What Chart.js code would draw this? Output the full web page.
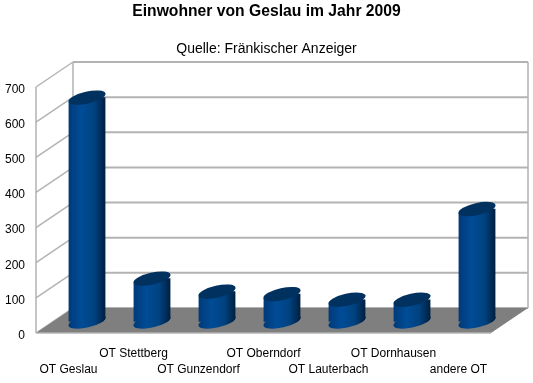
<!DOCTYPE html>
<html>
<head>
<meta charset="utf-8">
<style>
    html, body { margin: 0; background: #fff; }
    canvas { display: block; }
</style>
<script src="https://cdn.jsdelivr.net/npm/chart.js@4"></script>
</head>
<body>
<canvas id="chart" width="533" height="383"></canvas>
<script>
const categories = ['OT Geslau', 'OT Stettberg', 'OT Gunzendorf', 'OT Oberndorf', 'OT Lauterbach', 'OT Dornhausen', 'andere OT'];
const einwohner = [637, 122, 85, 78, 62, 62, 320];
const yTicks = [0, 100, 200, 300, 400, 500, 600, 700];

const DEPTH_X = 37, DEPTH_Y = 25;     // wall depth of the fake 3D box
const BAR_X = 18.5, BAR_Y = 11.5;     // bars stand in the middle of the floor
const BAR_WIDTH = 37;
const ELLIPSE_RY = 6, ELLIPSE_TILT = -0.22;
const ELLIPSE_RX = BAR_WIDTH / 2 / Math.cos(ELLIPSE_TILT);
const FONT = 'Liberation Sans';

function barGradient(chart, x) {
    const half = BAR_WIDTH / 2;
    const g = chart.ctx.createLinearGradient(x - half, 0, x + half, 0);
    g.addColorStop(0, '#003a78');
    g.addColorStop(0.35, '#004c96');
    g.addColorStop(0.7, '#00427f');
    g.addColorStop(0.9, '#002a55');
    g.addColorStop(1, '#001f40');
    return g;
}

function ellipse(ctx, x, y, fill) {
    ctx.beginPath();
    ctx.ellipse(x, y, ELLIPSE_RX, ELLIPSE_RY, ELLIPSE_TILT, 0, Math.PI * 2);
    ctx.fillStyle = fill;
    ctx.fill();
}

// cylinder outline, so the square bar corners don't stick out past the slanted ellipses
function clipToCylinders(ctx, bars) {
    const tipX = BAR_WIDTH / 2;
    const tipY = Math.sin(ELLIPSE_TILT) * ELLIPSE_RX;
    ctx.beginPath();
    bars.forEach(el => {
        ctx.moveTo(el.x - tipX, el.y - tipY);
        ctx.lineTo(el.x - tipX, el.base - tipY);
        ctx.ellipse(el.x, el.base, ELLIPSE_RX, ELLIPSE_RY, ELLIPSE_TILT, Math.PI, 0, true);
        ctx.lineTo(el.x + tipX, el.y + tipY);
        ctx.closePath();
    });
    ctx.clip();
}

// walls + floor, then shift the canvas so the bars land mid-depth
const box3d = {
    id: 'box3d',
    beforeDraw(chart) {
        // tick labels sit a bit lower than Chart.js centres them
        chart.scales.y.getLabelItems().forEach(item => { item.options.translation[1] += 2.5; });
    },
    beforeDatasetsDraw(chart) {
        const { ctx, chartArea: a, scales: { y } } = chart;
        ctx.save();
        ctx.strokeStyle = '#b3b3b3';

        ctx.lineWidth = 2;
        yTicks.forEach(v => {
            const py = y.getPixelForValue(v);
            ctx.beginPath();
            ctx.moveTo(a.left + DEPTH_X, py - DEPTH_Y);
            ctx.lineTo(a.right + DEPTH_X, py - DEPTH_Y);
            ctx.stroke();
        });
        ctx.lineWidth = 1.5;
        yTicks.forEach(v => {
            const py = y.getPixelForValue(v);
            ctx.beginPath();
            ctx.moveTo(a.left, py);
            ctx.lineTo(a.left + DEPTH_X, py - DEPTH_Y);
            ctx.stroke();
        });
        ctx.beginPath();
        ctx.moveTo(a.left, a.bottom);
        ctx.lineTo(a.left, a.top);
        ctx.moveTo(a.left + DEPTH_X, a.bottom - DEPTH_Y);
        ctx.lineTo(a.left + DEPTH_X, a.top - DEPTH_Y);
        ctx.moveTo(a.right + DEPTH_X, a.bottom - DEPTH_Y);
        ctx.lineTo(a.right + DEPTH_X, a.top - DEPTH_Y);
        ctx.stroke();

        ctx.beginPath();
        ctx.moveTo(a.left, a.bottom);
        ctx.lineTo(a.left + DEPTH_X, a.bottom - DEPTH_Y);
        ctx.lineTo(a.right + DEPTH_X, a.bottom - DEPTH_Y);
        ctx.lineTo(a.right, a.bottom);
        ctx.closePath();
        ctx.fillStyle = '#7f7f7f';
        ctx.fill();
        ctx.beginPath();
        ctx.moveTo(a.left, a.bottom);
        ctx.lineTo(a.right, a.bottom);
        ctx.stroke();
        ctx.restore();

        const bars = chart.getDatasetMeta(0).data;
        ctx.save();
        ctx.translate(BAR_X, -BAR_Y);
        bars.forEach(el => ellipse(ctx, el.x, el.base, barGradient(chart, el.x)));
        clipToCylinders(ctx, bars);
    },
    afterDatasetsDraw(chart) {
        const ctx = chart.ctx;
        ctx.restore();
        ctx.save();
        ctx.translate(BAR_X, -BAR_Y);
        chart.getDatasetMeta(0).data.forEach(el => ellipse(ctx, el.x, el.y, '#00315f'));
        ctx.restore();
    }
};

new Chart(document.getElementById('chart'), {
    type: 'bar',
    data: {
        labels: categories,
        datasets: [{
            data: einwohner,
            clip: false,
            barThickness: BAR_WIDTH,
            backgroundColor: c => {
                // scales have no pixels yet on the first resolve
                const x = c.chart.scales.x ? c.chart.scales.x.getPixelForValue(c.dataIndex) : NaN;
                return Number.isFinite(x) ? barGradient(c.chart, x) : '#004080';
            }
        }]
    },
    options: {
        responsive: false,
        animation: false,
        layout: { padding: 0 },
        plugins: {
            legend: { display: false },
            tooltip: { enabled: false },
            title: {
                display: true,
                text: 'Einwohner von Geslau im Jahr 2009',
                color: '#000',
                font: { family: FONT, size: 15.7, weight: 'bold' },
                padding: { top: 2, bottom: 18 }
            },
            subtitle: {
                display: true,
                text: 'Quelle: Fränkischer Anzeiger',
                color: '#000',
                font: { family: FONT, size: 14, weight: 'normal' },
                padding: { top: 2, bottom: 29.36 }
            }
        },
        scales: {
            x: {
                grid: { display: false },
                border: { display: false },
                afterFit: s => { s.height = 50; s.paddingLeft = 0; s.paddingRight = 42; },
                ticks: {
                    autoSkip: false,
                    maxRotation: 0,
                    padding: 5,
                    color: '#000',
                    font: { family: FONT, size: 12, lineHeight: 1.33 },
                    callback(v, i) {
                        const name = this.getLabelForValue(v);
                        return i % 2 ? [name, ''] : ['', name];
                    }
                }
            },
            y: {
                min: 0,
                max: 700,
                grid: { display: false },
                border: { display: false },
                afterBuildTicks: s => { s.ticks = yTicks.map(value => ({ value })); },
                afterFit: s => { s.width = 36; s.paddingTop = 0; s.paddingBottom = 0; },
                ticks: {
                    padding: 3,
                    color: '#000',
                    font: { family: FONT, size: 12 }
                }
            }
        }
    },
    plugins: [box3d]
});
</script>
</body>
</html>
